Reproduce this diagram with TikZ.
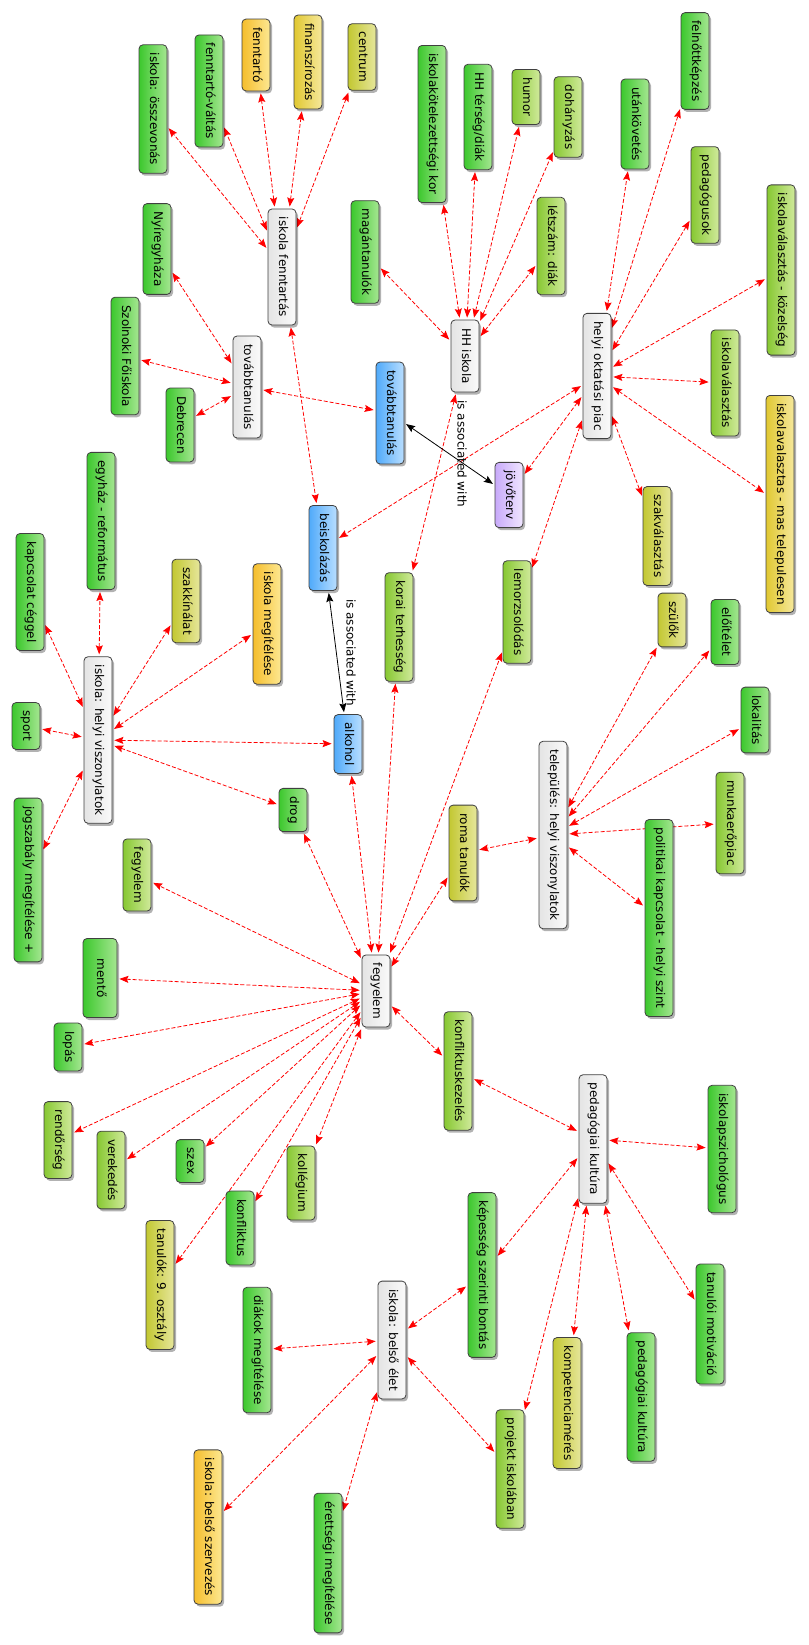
\documentclass[tikz,border=0pt]{standalone}
\usepackage{fontspec}
\setmainfont{DejaVu Sans}
\usepackage{graphicx}
\usetikzlibrary{arrows.meta,shadows,backgrounds}

% --- fill colours: dark (left) and light (right) end of each gradient ---
\definecolor{grnA}{RGB}{60,200,45}   \definecolor{grnB}{RGB}{165,230,145}
\definecolor{ylgA}{RGB}{135,200,50}  \definecolor{ylgB}{RGB}{208,234,155}
\definecolor{oliA}{RGB}{195,200,50}  \definecolor{oliB}{RGB}{230,230,155}
\definecolor{yelA}{RGB}{225,200,50}  \definecolor{yelB}{RGB}{246,232,155}
\definecolor{orgA}{RGB}{245,190,45}  \definecolor{orgB}{RGB}{253,232,145}
\definecolor{bluA}{RGB}{80,170,250}  \definecolor{bluB}{RGB}{185,222,255}
\definecolor{purA}{RGB}{200,170,250} \definecolor{purB}{RGB}{240,230,255}
\definecolor{hubA}{RGB}{228,228,228} \definecolor{hubB}{RGB}{250,250,250}

\newcommand{\vt}[1]{\rotatebox{-90}{\strut #1}}

\begin{document}
\begin{tikzpicture}[x=1pt, y=-1pt,
    box/.style={draw=black!75, line width=.8pt, rounded corners=4pt,
        minimum width=28pt, inner xsep=0pt, inner ysep=8pt,
        font=\fontsize{12}{14}\selectfont,
        drop shadow={shadow xshift=2pt, shadow yshift=-2.5pt, fill=black, opacity=.3}},
    hub/.style={box, left color=hubA, right color=hubB},
    grn/.style={box, left color=grnA, right color=grnB},
    ylg/.style={box, left color=ylgA, right color=ylgB},
    oli/.style={box, left color=oliA, right color=oliB},
    yel/.style={box, left color=yelA, right color=yelB},
    org/.style={box, left color=orgA, right color=orgB},
    blu/.style={box, left color=bluA, right color=bluB},
    pur/.style={box, left color=purA, right color=purB},
    link/.style={red, line width=.8pt, dash pattern=on 4pt off 2pt,
        {Stealth[length=9pt,width=7pt,inset=1.5pt]}-{Stealth[length=9pt,width=7pt,inset=1.5pt]},
        shorten <=2pt, shorten >=2pt},
    assoc/.style={black, line width=.8pt,
        {Stealth[length=9pt,width=7pt,inset=1.5pt]}-{Stealth[length=9pt,width=7pt,inset=1.5pt]},
        shorten <=2pt, shorten >=2pt}]

\useasboundingbox (0,0) rectangle (808,1645);

% --- hubs ---
\node[hub] (fenntartas) at (282,267)  {\vt{iskola fenntartás}};
\node[hub] (tovabbW)    at (247,387)  {\vt{továbbtanulás}};
\node[hub] (hhiskola)   at (465,356)  {\vt{HH iskola}};
\node[hub] (piac)       at (597,376)  {\vt{helyi oktatási piac}};
\node[hub] (helyi)      at (98,740)   {\vt{iskola: helyi viszonylatok}};
\node[hub] (fegyelem)   at (376,991)  {\vt{fegyelem}};
\node[hub] (telepules)  at (553,835)  {\vt{település: helyi viszonylatok}};
\node[hub] (pedkult)    at (593,1139) {\vt{pedagógiai kultúra}};
\node[hub] (belso)      at (392,1340) {\vt{iskola: belső élet}};

% --- blue and purple ---
\node[blu] (tovabbB)  at (390,413) {\vt{továbbtanulás}};
\node[blu] (beisk)    at (323,548) {\vt{beiskolázás}};
\node[blu] (alkohol)  at (348,744) {\vt{alkohol}};
\node[pur] (jovoterv) at (509,495) {\vt{jövőterv}};

% --- orange and yellow ---
\node[org] (fenntarto) at (256,55)   {\vt{fenntartó}};
\node[org] (megitel)   at (267,624)  {\vt{iskola megítélése}};
\node[org] (szervezes) at (208,1527) {\vt{iskola: belső szervezés}};
\node[yel] (finansz)   at (308,62)   {\vt{finanszírozás}};
\node[yel] (mastelep)  at (780,504)  {\vt{iskolavalasztas - mas telepulesen}};

% --- olive ---
\node[oli] (centrum) at (362,57)   {\vt{centrum}};
\node[oli] (szakkin) at (186,601)  {\vt{szakkínálat}};
\node[oli] (szakval) at (657,536)  {\vt{szakválasztás}};
\node[oli] (szulok)  at (672,620)  {\vt{szülők}};
\node[oli] (roma)    at (463,853)  {\vt{roma tanulók}};
\node[oli] (kilenc)  at (160,1285) {\vt{tanulók: 9. osztály}};
\node[oli] (kompet)  at (567,1403) {\vt{kompetenciamérés}};

% --- yellow-green ---
\node[ylg] (humor)       at (526,97)   {\vt{humor}};
\node[ylg] (dohanyzas)   at (568,117)  {\vt{dohányzás}};
\node[ylg] (letszam)     at (551,246)  {\vt{létszám: diák}};
\node[ylg] (pedagogusok) at (705,195)  {\vt{pedagógusok}};
\node[ylg] (kozelseg)    at (781,270)  {\vt{iskolaválasztás - közelség}};
\node[ylg] (iskval)      at (725,383)  {\vt{iskolaválasztás}};
\node[ylg] (terhesseg)   at (399,627)  {\vt{korai terhesség}};
\node[ylg] (lemorz)      at (517,612)  {\vt{lemorzsolódás}};
\node[ylg] (fegyG)       at (137,875)  {\vt{fegyelem}};
\node[ylg] (rendorseg)   at (58,1140)  {\vt{rendőrség}};
\node[ylg] (verekedes)   at (111,1170) {\vt{verekedés}};
\node[ylg] (kollegium)   at (301,1183) {\vt{kollégium}};
\node[ylg] (munkaero)    at (730,823)  {\vt{munkaerőpiac}};
\node[ylg] (konfkez)     at (458,1071) {\vt{konfliktuskezelés}};
\node[ylg] (projekt)     at (510,1469) {\vt{projekt iskolában}};

% --- green ---
\node[grn] (osszevonas)  at (153,109)  {\vt{iskola: összevonás}};
\node[grn] (valtas)      at (209,91)   {\vt{fenntartó-váltás}};
\node[grn] (nyiregyhaza) at (157,249)  {\vt{Nyíregyháza}};
\node[grn] (szolnok)     at (125,356)  {\vt{Szolnoki Főiskola}};
\node[grn] (debrecen)    at (180,425)  {\vt{Debrecen}};
\node[grn] (magan)       at (365,252)  {\vt{magántanulók}};
\node[grn] (kotelezett)  at (432,124)  {\vt{iskolakötelezettségi kor}};
\node[grn] (terseg)      at (478,117)  {\vt{HH térség/diák}};
\node[grn] (utankovetes) at (635,124)  {\vt{utánkövetés}};
\node[grn] (felnott)     at (695,61)   {\vt{felnőttképzés}};
\node[grn] (egyhaz)      at (101,521)  {\vt{egyház - református}};
\node[grn] (ceggel)      at (30,592)   {\vt{kapcsolat céggel}};
\node[grn] (sport)       at (26,726)   {\vt{sport}};
\node[grn] (jogszabaly)  at (28,880)   {\vt{jogszabály megítélése +}};
\node[grn] (drog)        at (293,810)  {\vt{drog}};
\node[grn, minimum width=34pt, minimum height=79pt] (mento) at (100,978) {\vt{mentő}};
\node[grn] (lopas)       at (68,1047)  {\vt{lopás}};
\node[grn] (szex)        at (190,1161) {\vt{szex}};
\node[grn] (konfliktus)  at (240,1228) {\vt{konfliktus}};
\node[grn] (eloitelet)   at (725,632)  {\vt{előítélet}};
\node[grn] (lokalitas)   at (755,720)  {\vt{lokalitás}};
\node[grn] (politikai)   at (659,918)  {\vt{politikai kapcsolat - helyi szint}};
\node[grn] (pszich)      at (722,1149) {\vt{iskolapszichológus}};
\node[grn] (kepesseg)    at (482,1275) {\vt{képesség szerinti bontás}};
\node[grn] (diakok)      at (257,1350) {\vt{diákok megítélése}};
\node[grn] (erettsegi)   at (328,1563) {\vt{érettségi megítélése}};
\node[grn] (motivacio)   at (710,1324) {\vt{tanulói motiváció}};
\node[grn] (pedkultG)    at (641,1397) {\vt{pedagógiai kultúra}};

% --- connectors, behind the boxes ---
\begin{scope}[on background layer]
\foreach \n in {osszevonas,valtas,fenntarto,finansz,centrum,beisk}
    \draw[link] (fenntartas) -- (\n);
\foreach \n in {nyiregyhaza,szolnok,debrecen,tovabbB}
    \draw[link] (tovabbW) -- (\n);
\foreach \n in {magan,kotelezett,terseg,humor,dohanyzas,letszam,terhesseg}
    \draw[link] (hhiskola) -- (\n);
\foreach \n in {utankovetes,felnott,pedagogusok,kozelseg,iskval,mastelep,szakval,jovoterv,lemorz,beisk}
    \draw[link] (piac) -- (\n);
\foreach \n in {egyhaz,ceggel,szakkin,megitel,sport,alkohol,drog,jogszabaly}
    \draw[link] (helyi) -- (\n);
\foreach \n in {drog,alkohol,terhesseg,lemorz,roma,fegyG,mento,lopas,rendorseg,verekedes,szex,kollegium,konfliktus,kilenc,konfkez}
    \draw[link] (fegyelem) -- (\n);
\foreach \n in {szulok,eloitelet,lokalitas,munkaero,politikai,roma}
    \draw[link] (telepules) -- (\n);
\foreach \n in {konfkez,pszich,kepesseg,projekt,kompet,pedkultG,motivacio}
    \draw[link] (pedkult) -- (\n);
\foreach \n in {kepesseg,diakok,szervezes,erettsegi,projekt}
    \draw[link] (belso) -- (\n);

% associations
\draw[assoc] (tovabbB) -- node[midway, xshift=11pt, font=\fontsize{12}{14}\selectfont] (assoc1) {\vt{is associated with}} (jovoterv);
\draw[assoc] (beisk) -- node[midway, xshift=13pt, font=\fontsize{12}{14}\selectfont] (assoc2) {\vt{is associated with}} (alkohol);
\end{scope}

\end{tikzpicture}
\end{document}
